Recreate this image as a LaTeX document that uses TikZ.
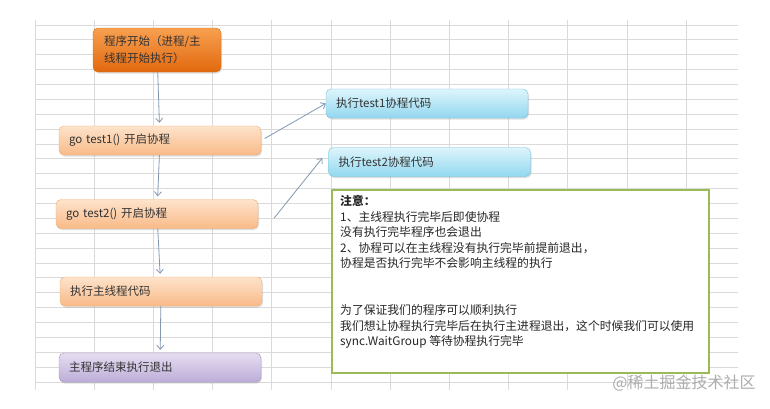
\documentclass[tikz,border=0pt]{standalone}
\usepackage{fontspec}
\setmainfont{Noto Sans CJK SC}
\usetikzlibrary{arrows.meta,shadows}
\definecolor{gridgray}{HTML}{DADADA}
\definecolor{arrowblue}{HTML}{8297B0}
\definecolor{darkorTop}{HTML}{F7A050}
\definecolor{darkorBot}{HTML}{E2680E}
\definecolor{darkorLine}{HTML}{D0700F}
\definecolor{orTop}{HTML}{FDE3CB}
\definecolor{orBot}{HTML}{F9BA88}
\definecolor{orLine}{HTML}{F0AC70}
\definecolor{cyTop}{HTML}{DDF5FC}
\definecolor{cyBot}{HTML}{92D7EF}
\definecolor{cyLine}{HTML}{72C2DC}
\definecolor{puTop}{HTML}{E6DDF0}
\definecolor{puBot}{HTML}{BDADD8}
\definecolor{puLine}{HTML}{A090C2}
\definecolor{noteGreen}{HTML}{9BBB59}

\begin{document}
\begin{tikzpicture}[x=1pt, y=-1pt]
      \tikzstyle{gridline}=[gridgray, line width=0.8pt]
      \tikzstyle{box}=[draw, rounded corners=5pt, minimum height=29pt, text width=182pt,
                       inner xsep=10pt, align=left, text=black!80,
                       font=\fontsize{11.5}{14}\selectfont,
                       drop shadow={opacity=0.25, shadow xshift=1pt, shadow yshift=-1.5pt}]
      \tikzstyle{startbox}=[box, text width=106pt, inner xsep=11pt, minimum height=44pt,
                            font=\fontsize{11.5}{17}\selectfont,
                            draw=darkorLine, top color=darkorTop, bottom color=darkorBot]
      \tikzstyle{orbox}=[box, draw=orLine, top color=orTop, bottom color=orBot]
      \tikzstyle{cybox}=[box, draw=cyLine, top color=cyTop, bottom color=cyBot]
      \tikzstyle{pubox}=[box, draw=puLine, top color=puTop, bottom color=puBot]
      \tikzstyle{notebox}=[draw=noteGreen, line width=2pt, fill=white, anchor=north west,
                           minimum width=377pt, minimum height=183pt]
      \tikzstyle{notetext}=[anchor=north west, inner sep=0pt, align=left, text=black!85,
                            font=\fontsize{11.8}{15.6}\selectfont]
      \tikzstyle{wmark}=[text=black!32, font=\fontsize{16}{18}\selectfont]
      \tikzstyle{arrow}=[arrowblue, line width=0.8pt, -{Straight Barb[length=4pt, width=7pt]}]

      \useasboundingbox (0,0) rectangle (770,408);
      \fill[white] (0,0) rectangle (770,408);

      % sheet grid behind the chart
      \foreach \i in {0,...,24} {%
        \draw[gridline] (35,25+14.875*\i) -- (738,25+14.875*\i);
      }
      \foreach \i in {0,...,11} {%
        \draw[gridline] (35+59.2*\i,20) -- (35+59.2*\i,390);
      }

      \node[startbox] (start) at (157,50) {程序开始（进程/主\\线程开始执行）};
      \node[orbox] (g1) at (160,140.5) {go test1() 开启协程};
      \node[orbox] (g2) at (157,214) {go test2() 开启协程};
      \node[orbox] (mainc) at (161,291.5) {执行主线程代码};
      \node[pubox] (quit) at (160,367.5) {主程序结束执行退出};
      \node[cybox] (t1) at (427,103.5) {执行test1协程代码};
      \node[cybox] (t2) at (429.5,162) {执行test2协程代码};

      \node[notebox] (note) at (331,189) {};
      \node[notetext] (notetxt) at (340,195) {%
        \textbf{注意：}\\
        1、主线程执行完毕后即使协程\\
        没有执行完毕程序也会退出\\
        2、协程可以在主线程没有执行完毕前提前退出，\\
        协程是否执行完毕不会影响主线程的执行\\
        ~\\
        ~\\
        为了保证我们的程序可以顺利执行\\
        我们想让协程执行完毕后在执行主进程退出，这个时候我们可以使用\\
        sync.WaitGroup 等待协程执行完毕};

      \node[wmark] (wm) at (684,383) {@稀土掘金技术社区};

      \foreach \src/\dst in {start/g1, g1/g2, g2/mainc, mainc/quit} {%
        \draw[arrow, shorten >=3pt] (\src) to (\dst);
      }
      \draw[arrow, shorten <=4pt] (g1.east) to (t1.west);
      \draw[arrow] ([xshift=16pt, yshift=-4pt]g2.east) to ([xshift=-6pt, yshift=4pt]t2.west);
    \end{tikzpicture}
\end{document}
